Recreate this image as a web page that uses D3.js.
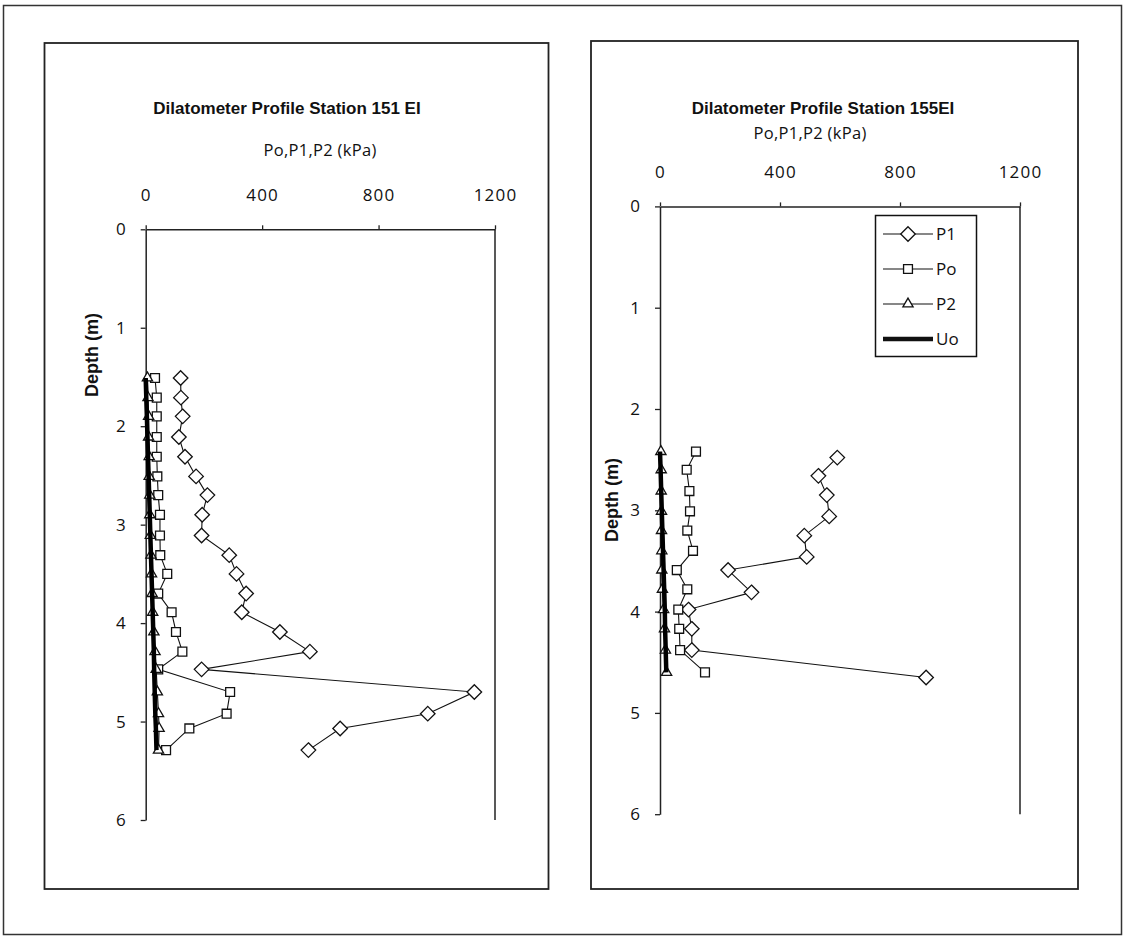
<!DOCTYPE html>
<html>
<head>
<meta charset="utf-8">
<script src="https://cdn.jsdelivr.net/npm/d3@7"></script>
<style>
  html, body { margin: 0; padding: 0; background: #fff; }
  svg { display: block; }
  .tick text { font-family: "Open Sans", sans-serif; font-size: 17px; fill: #111; }
</style>
</head>
<body>
<svg id="chart" width="1125" height="936"></svg>
<script>
// ---------------- DATA ----------------
const xTicks = [0, 400, 800, 1200];
const yTicks = [0, 1, 2, 3, 4, 5, 6];
const seriesNames = ["P1", "Po", "P2", "Uo"];

// Station 151 EI
const leftTitle = "Dilatometer Profile Station 151 EI";
const leftDepth = [1.51, 1.71, 1.90, 2.11, 2.31, 2.51, 2.70, 2.90, 3.11, 3.31, 3.50, 3.70, 3.89, 4.09, 4.29, 4.47, 4.70, 4.92, 5.07, 5.29];
const leftP1 = [120, 121, 127, 114, 135, 173, 212, 194, 192, 287, 312, 345, 330, 461, 564, 192, 1129, 969, 668, 559];
const leftPo = [32, 38, 38, 38, 38, 40, 43, 49, 49, 50, 74, 43, 89, 104, 126, 43, 290, 278, 150, 70];
const leftP2 = [6, 8, 10, 10, 12, 12, 14, 14, 16, 18, 20, 22, 24, 28, 32, 36, 40, 44, 46, 44];
const leftUo = [0, 2, 4, 6, 8, 10, 12, 14, 16, 18, 20, 22, 24, 26, 28, 29, 31, 33, 35, 37];

// Station 155 EI
const rightTitle = "Dilatometer Profile  Station 155EI";
const rightDepthP1 = [2.48, 2.66, 2.85, 3.06, 3.25, 3.46, 3.59, 3.81, 3.98, 4.17, 4.38, 4.65];
const rightP1 = [591, 528, 556, 564, 481, 489, 227, 305, 95, 106, 106, 887];
const rightDepth = [2.42, 2.60, 2.81, 3.01, 3.20, 3.40, 3.59, 3.78, 3.98, 4.17, 4.38, 4.60];
const rightPo = [120, 89, 98, 100, 91, 110, 56, 91, 61, 64, 67, 150];
const rightP2 = [3, 4, 4, 5, 5, 6, 6, 8, 12, 15, 18, 22];
const rightUo = [0, 2, 4, 6, 8, 10, 12, 14, 16, 17, 19, 21];

const xLabel = "Po,P1,P2 (kPa)";
const yLabel = "Depth (m)";

// ---------------- DRAW ----------------
const svg = d3.select("#chart");

svg.append("rect").attr("x", 3.5).attr("y", 5.5).attr("width", 1118).attr("height", 929)
  .attr("fill", "none").attr("stroke", "#333").attr("stroke-width", 1.5);

const charts = [
  {
    panel: [44.5, 43, 504, 846],
    title: leftTitle, titleX: 287, titleY: 114,
    xTitleX: 320, xTitleY: 156,
    yTitleX: 92, yTitleY: 355,
    xRange: [145.7, 495], yRange: [229.3, 820],
    p1Depth: leftDepth, p1: leftP1,
    depth: leftDepth, po: leftPo, p2: leftP2, uo: leftUo,
    legend: false
  },
  {
    panel: [591, 41, 487, 848],
    title: rightTitle, titleX: 823, titleY: 114,
    xTitleX: 810, xTitleY: 139,
    yTitleX: 612, yTitleY: 500,
    xRange: [660, 1020], yRange: [206.4, 814.2],
    p1Depth: rightDepthP1, p1: rightP1,
    depth: rightDepth, po: rightPo, p2: rightP2, uo: rightUo,
    legend: true
  }
];

const diamond = d3.symbol().type(d3.symbolDiamond2).size(135);
const square = d3.symbol().type(d3.symbolSquare2).size(100);
const triangle = d3.symbol().type(d3.symbolTriangle2).size(75);

charts.forEach(c => {
  const [px, py, pw, ph] = c.panel;
  svg.append("rect").attr("x", px).attr("y", py).attr("width", pw).attr("height", ph)
    .attr("fill", "#fff").attr("stroke", "#222").attr("stroke-width", 1.8);

  const x = d3.scaleLinear().domain([0, 1200]).range(c.xRange);
  const y = d3.scaleLinear().domain([0, 6]).range(c.yRange);

  const g = svg.append("g");

  g.append("line").attr("x1", x(1200)).attr("x2", x(1200))
    .attr("y1", y(0)).attr("y2", y(6)).attr("stroke", "#222").attr("stroke-width", 1.5);

  const xAxis = g.append("g").attr("transform", `translate(0,${y(0)})`)
    .call(d3.axisTop(x).tickValues(xTicks).tickFormat(d3.format("d"))
      .tickSize(4).tickSizeOuter(0).tickPadding(24));
  xAxis.select(".domain").attr("stroke", "#222").attr("stroke-width", 1.5);
  xAxis.selectAll(".tick line").attr("stroke", "#222").attr("stroke-width", 1.3);
  xAxis.selectAll(".tick text").style("letter-spacing", "1.2px");

  const yAxis = g.append("g").attr("transform", `translate(${x(0)},0)`)
    .call(d3.axisLeft(y).tickValues(yTicks).tickFormat(d3.format("d"))
      .tickSize(5).tickSizeOuter(0).tickPadding(15));
  yAxis.select(".domain").attr("stroke", "#222").attr("stroke-width", 1.5);
  yAxis.selectAll(".tick line").attr("stroke", "#222").attr("stroke-width", 1.3);

  g.append("text").attr("x", c.titleX).attr("y", c.titleY).attr("text-anchor", "middle")
    .attr("font-family", "'Liberation Sans Narrow', 'Liberation Sans', sans-serif")
    .attr("font-weight", "bold").attr("font-size", 17).attr("fill", "#111").text(c.title);
  g.append("text").attr("x", c.xTitleX).attr("y", c.xTitleY).attr("text-anchor", "middle")
    .attr("font-family", "'Open Sans', sans-serif").attr("font-size", 16.5).attr("fill", "#111")
    .style("letter-spacing", "0.3px").text(xLabel);
  g.append("text").attr("transform", `translate(${c.yTitleX},${c.yTitleY}) rotate(-90)`)
    .attr("text-anchor", "middle").attr("dy", "0.35em")
    .attr("font-family", "'Liberation Sans Narrow', 'Liberation Sans', sans-serif")
    .attr("font-weight", "bold").attr("font-size", 18).attr("fill", "#111").text(yLabel);

  const line = d3.line().x(d => x(d[0])).y(d => y(d[1]));

  const p1Data = c.p1.map((v, i) => [v, c.p1Depth[i]]);
  const poData = c.po.map((v, i) => [v, c.depth[i]]);
  const p2Data = c.p2.map((v, i) => [v, c.depth[i]]);
  const uoData = c.uo.map((v, i) => [v, c.depth[i]]);

  const series = [
    { data: p1Data, sym: diamond },
    { data: poData, sym: square },
    { data: p2Data, sym: triangle }
  ];
  series.forEach(s => {
    g.append("path").datum(s.data).attr("d", line)
      .attr("fill", "none").attr("stroke", "#111").attr("stroke-width", 1.1);
    g.selectAll(null).data(s.data).enter().append("path")
      .attr("d", s.sym)
      .attr("transform", d => `translate(${x(d[0])},${y(d[1])})`)
      .attr("fill", "#fff").attr("stroke", "#111").attr("stroke-width", 1.3);
  });
  g.append("path").datum(uoData).attr("d", line)
    .attr("fill", "none").attr("stroke", "#000").attr("stroke-width", 4.5);

  if (c.legend) {
    const lg = g.append("g");
    lg.append("rect").attr("x", 875.5).attr("y", 215.5).attr("width", 101).attr("height", 141)
      .attr("fill", "#fff").attr("stroke", "#111").attr("stroke-width", 1.5);
    const syms = [diamond, square, triangle, null];
    seriesNames.forEach((name, i) => {
      const ly = 234 + i * 35;
      lg.append("line").attr("x1", 883).attr("x2", 933).attr("y1", ly).attr("y2", ly)
        .attr("stroke", "#111").attr("stroke-width", syms[i] ? 1.1 : 4.5);
      if (syms[i]) {
        lg.append("path").attr("d", syms[i]).attr("transform", `translate(908,${ly})`)
          .attr("fill", "#fff").attr("stroke", "#111").attr("stroke-width", 1.3);
      }
      lg.append("text").attr("x", 936).attr("y", ly).attr("dy", "0.35em")
        .attr("font-family", "'Open Sans', sans-serif").attr("font-size", 17).attr("fill", "#111")
        .text(name);
    });
  }
});
</script>
</body>
</html>
